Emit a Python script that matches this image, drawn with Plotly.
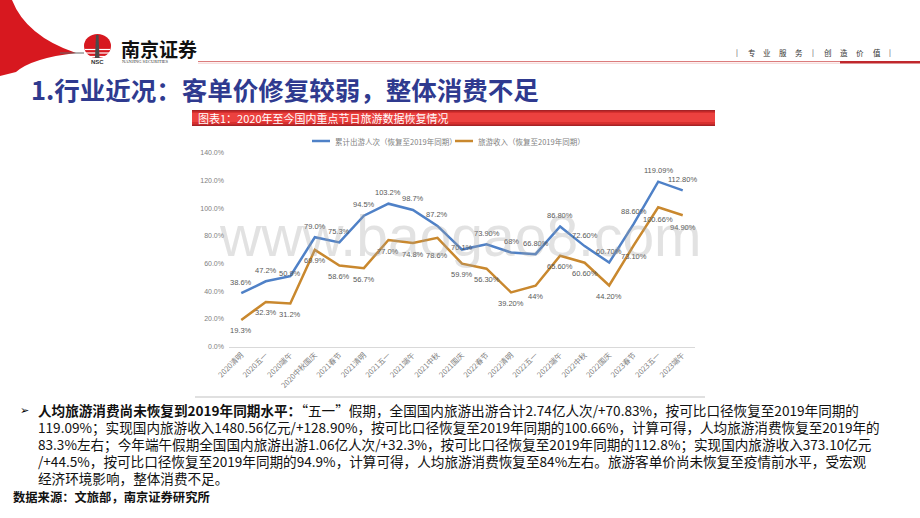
import plotly.graph_objects as go

# ---------------- data ----------------
categories = ["2020清明", "2020五一", "2020端午", "2020中秋国庆", "2021春节", "2021清明",
              "2021五一", "2021端午", "2021中秋", "2021国庆", "2022春节", "2022清明",
              "2022五一", "2022端午", "2022中秋", "2022国庆", "2023春节", "2023五一", "2023端午"]
trips = [38.6, 47.2, 50.9, 79.0, 75.3, 94.5, 103.2, 98.7, 87.2, 70.1, 73.9, 68.0,
         66.8, 86.8, 72.6, 60.7, 88.6, 119.09, 112.8]
trips_labels = ["38.6%", "47.2%", "50.9%", "79.0%", "75.3%", "94.5%", "103.2%", "98.7%", "87.2%",
                "70.1%", "73.90%", "68%", "66.80%", "86.80%", "72.60%", "60.70%", "88.60%",
                "119.09%", "112.80%"]
revenue = [19.3, 32.3, 31.2, 69.9, 58.6, 56.7, 77.0, 74.8, 78.6, 59.9, 56.3, 39.2,
           44.0, 65.6, 60.6, 44.2, 73.1, 100.66, 94.9]
revenue_labels = ["19.3%", "32.3%", "31.2%", "69.9%", "58.6%", "56.7%", "77.0%", "74.8%", "78.6%",
                  "59.9%", "56.30%", "39.20%", "44%", "65.60%", "60.60%", "44.20%", "73.10%",
                  "100.66%", "94.90%"]
y_ticks = [0, 20, 40, 60, 80, 100, 120, 140]
y_tick_labels = ["0.0%", "20.0%", "40.0%", "60.0%", "80.0%", "100.0%", "120.0%", "140.0%"]
series_names = ["累计出游人次（恢复至2019年同期）", "旅游收入（恢复至2019年同期）"]

# label vertical shifts (px, positive = up)
trips_shift = [11, 11, 3, 11, 11, 11, 11, 11, 11, 2, 11, 11, 11, 11, 11, 11, 12, 11, 11]
revenue_shift = [-11, -11, -11, -11, -11, -11, -11, -11, -18, -11, -11, -11, -11, -11, -11, -11, -11, -12, -12]

W, H = 920, 518
def X(px): return px / W
def Y(py): return 1 - py / H

BLUE = "#4F81C7"
ORANGE = "#C9882E"
CJK = "Noto Sans CJK SC"

fig = go.Figure()
fig.add_trace(go.Scatter(x=categories, y=trips, mode="lines", name=series_names[0],
                         line=dict(color=BLUE, width=2.5), showlegend=False, hoverinfo="skip"))
fig.add_trace(go.Scatter(x=categories, y=revenue, mode="lines", name=series_names[1],
                         line=dict(color=ORANGE, width=2.5), showlegend=False, hoverinfo="skip"))

annotations = []
for c, v, t, s in zip(categories, trips, trips_labels, trips_shift):
    annotations.append(dict(x=c, y=v, xref="x", yref="y", text=t, showarrow=False,
                            yshift=s, font=dict(size=7.5, color="#595959", family="Liberation Sans")))
for c, v, t, s in zip(categories, revenue, revenue_labels, revenue_shift):
    annotations.append(dict(x=c, y=v, xref="x", yref="y", text=t, showarrow=False,
                            yshift=s, font=dict(size=7.5, color="#595959", family="Liberation Sans")))

def txt(px, py, text, size, color="#000", family=CJK, xanchor="left", yanchor="middle"):
    annotations.append(dict(x=X(px), y=Y(py), xref="paper", yref="paper", text=text,
                            showarrow=False, xanchor=xanchor, yanchor=yanchor,
                            font=dict(size=size, color=color, family=family)))

shapes = []
def rect(x0, y0, x1, y1, color, line_w=0):
    shapes.append(dict(type="rect", xref="paper", yref="paper", x0=X(x0), x1=X(x1),
                       y0=Y(y1), y1=Y(y0), fillcolor=color, line=dict(width=line_w), layer="below"))
def line(x0, y0, x1, y1, color, w):
    shapes.append(dict(type="line", xref="paper", yref="paper", x0=X(x0), x1=X(x1),
                       y0=Y(y0), y1=Y(y1), line=dict(color=color, width=w)))
def path(pts_cmd, color):
    shapes.append(dict(type="path", xref="paper", yref="paper", path=pts_cmd,
                       fillcolor=color, line=dict(width=0)))

def P(px, py): return f"{X(px):.5f},{Y(py):.5f}"

# ---------- header ----------
path(f"M{P(0,0)} L{P(12,0)} Q{P(26,36)} {P(76,53)} Q{P(32,58)} {P(16,72)} L{P(0,76)} Z", "#D7181F")
line(60, 53, 84, 53, "#666666", 1)
shapes.append(dict(type="circle", xref="paper", yref="paper", x0=X(84), x1=X(111), y0=Y(58), y1=Y(34),
                   fillcolor="#D7181F", line=dict(width=0)))
for yy in (49.5, 53, 56.5):
    line(85, yy, 110, yy, "white", 1.2)
path(f"M{P(96,35)} L{P(98.5,35)} L{P(99.5,58)} L{P(95,58)} Z", "#4a4a4a")
txt(97.5, 61.5, "<b>NSC</b>", 6, "#333", "Liberation Sans", "center")
txt(119, 48, "<b>南京证券</b>", 19, "#111")
txt(120, 61.5, "NANJING SECURITIES", 4.5, "#333", "Liberation Serif")
line(198, 61.5, 920, 61.5, "#D25A5A", 0.8)
line(198, 63.2, 840, 63.2, "#F3C4C4", 0.8)
line(840, 62.3, 920, 62.3, "#C0282D", 2.5)
tag_chars = ["|", "专", "业", "服", "务", "|", "创", "造", "价", "值", "|"]
tag_x = [737, 752, 767, 783, 799, 813, 828, 844, 860, 877, 890]
for ch, xx in zip(tag_chars, tag_x):
    txt(xx, 52, ch, 7.5 if ch != "|" else 7, "#333", CJK, "center")
txt(29, 88, "<b>1.行业近况：客单价修复较弱，整体消费不足</b>", 25.5, "#2F3A8F")

# ---------- chart title bar ----------
rect(192, 110, 715, 126, "#A72226")
rect(192, 111.5, 715, 124.5, "#D8302F")
rect(192, 113, 715, 122, "#EC413F")
txt(196, 118, "图表1：2020年至今国内重点节日旅游数据恢复情况", 11, "white")

# ---------- manual legend ----------
line(312, 141, 330, 141, BLUE, 2.5)
txt(333, 141, series_names[0], 7.5, "#7f7f7f")
line(455, 141, 473, 141, ORANGE, 2.5)
txt(476, 141, series_names[1], 7.5, "#7f7f7f")

# watermark
txt(460, 236, "www.baogao8.com", 57, "rgba(160,160,160,0.30)", "Liberation Sans", "center")

# separator
line(195, 397, 705, 397, "#D6D6D6", 1.5)

# ---------- text block ----------
txt(18, 410, "➢", 11, "#000", "DejaVu Sans")
lines = [
    "<b>人均旅游消费尚未恢复到2019年同期水平：</b>“五一”假期，全国国内旅游出游合计2.74亿人次/+70.83%，按可比口径恢复至2019年同期的",
    "119.09%；实现国内旅游收入1480.56亿元/+128.90%，按可比口径恢复至2019年同期的100.66%，计算可得，人均旅游消费恢复至2019年的",
    "83.3%左右；今年端午假期全国国内旅游出游1.06亿人次/+32.3%，按可比口径恢复至2019年同期的112.8%；实现国内旅游收入373.10亿元",
    "/+44.5%，按可比口径恢复至2019年同期的94.9%，计算可得，人均旅游消费恢复至84%左右。旅游客单价尚未恢复至疫情前水平，受宏观",
    "经济环境影响，整体消费不足。",
]
for i, l in enumerate(lines):
    txt(36, 410 + 17 * i, l, 13.6, "#111")
txt(11, 497, "<b>数据来源：文旅部，南京证券研究所</b>", 12.3, "#111")

fig.update_layout(
    width=W, height=H, margin=dict(l=0, r=0, t=0, b=0),
    paper_bgcolor="white", plot_bgcolor="rgba(0,0,0,0)",
    showlegend=False,
    xaxis=dict(domain=[X(229), X(695)], type="category", categoryorder="array",
               categoryarray=categories, range=[-0.5, 18.5], tickangle=-45,
               tickfont=dict(size=7.5, color="#808080", family=CJK),
               showline=True, linecolor="#D9D9D9", linewidth=1, ticks="", showgrid=False,
               zeroline=False, fixedrange=True, automargin=False),
    yaxis=dict(domain=[Y(346.7), Y(152.7)], range=[0, 140], tickvals=y_ticks,
               ticktext=y_tick_labels, tickfont=dict(size=7, color="#808080", family="Liberation Sans"),
               showgrid=False, zeroline=False, showline=False, ticks="", ticklabelstandoff=4,
               fixedrange=True, automargin=False),
    shapes=shapes, annotations=annotations,
)
fig.write_html("out.html", config={"displayModeBar": False},
               post_script="document.body.style.margin='0';document.body.style.overflow='hidden';")
